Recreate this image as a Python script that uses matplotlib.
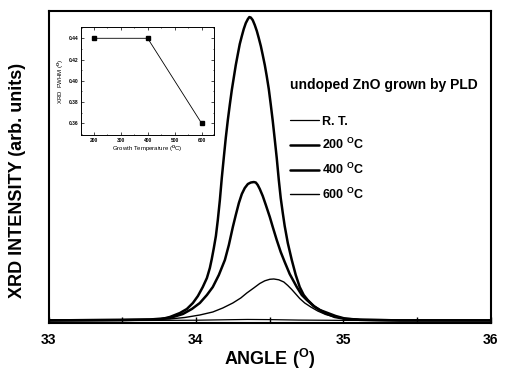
import matplotlib
matplotlib.use("Agg")
import matplotlib.pyplot as plt
from matplotlib.ticker import MultipleLocator, FormatStrFormatter

plt.rcParams['font.family'] = ['Liberation Sans', 'DejaVu Sans']
plt.rcParams['font.weight'] = 'bold'
plt.rcParams['mathtext.fontset'] = 'custom'
plt.rcParams['mathtext.rm'] = 'Liberation Sans:bold'
plt.rcParams['mathtext.bf'] = 'Liberation Sans:bold'
plt.rcParams['mathtext.it'] = 'Liberation Sans:bold'

# ---- main XRD curves (angle in degrees, intensity arb. units) ----
rt_angle = [33.00, 33.50, 34.00, 34.20, 34.35, 34.50, 34.70, 35.00, 35.50, 36.00]
rt_int = [0.10, 0.15, 0.25, 0.40, 0.50, 0.45, 0.30, 0.20, 0.15, 0.10]

t200_angle = [33.00, 33.49, 33.756, 33.824, 33.892, 33.939, 33.980, 34.014, 34.047, 34.075,
              34.095, 34.108, 34.122, 34.136, 34.149, 34.163, 34.176, 34.190, 34.203, 34.217,
              34.231, 34.244, 34.258, 34.271, 34.285, 34.298, 34.312, 34.325, 34.339, 34.353,
              34.363, 34.373, 34.386, 34.400, 34.414, 34.427, 34.441, 34.454, 34.468, 34.481,
              34.495, 34.508, 34.522, 34.536, 34.549, 34.563, 34.576, 34.590, 34.603, 34.624,
              34.651, 34.678, 34.705, 34.732, 34.759, 34.800, 34.841, 34.895, 34.949, 35.010,
              35.112, 35.38, 36.00]
t200_int = [0.20, 0.33, 0.49, 1.32, 2.63, 3.95, 5.92, 8.22, 11.18, 14.14,
            17.43, 20.39, 24.01, 27.96, 33.22, 39.80, 47.04, 53.95, 60.20, 66.12,
            71.38, 75.99, 80.26, 84.21, 87.83, 91.12, 93.75, 96.05, 98.03, 99.34,
            100.0, 99.84, 99.01, 97.37, 95.39, 93.09, 90.46, 87.50, 84.21, 80.59,
            76.32, 71.38, 65.79, 59.54, 53.62, 46.38, 40.46, 35.53, 31.25, 25.66,
            20.07, 15.13, 11.18, 8.55, 6.91, 4.93, 3.62, 2.63, 1.64, 0.82,
            0.39, 0.20, 0.20]

t400_angle = [33.00, 33.485, 33.688, 33.824, 33.912, 33.973, 34.027, 34.075, 34.115, 34.156,
              34.197, 34.224, 34.251, 34.271, 34.292, 34.312, 34.332, 34.353, 34.373, 34.393,
              34.407, 34.420, 34.434, 34.454, 34.475, 34.502, 34.522, 34.549, 34.576, 34.603,
              34.637, 34.685, 34.719, 34.753, 34.807, 34.875, 34.942, 35.010, 35.112, 35.38,
              36.00]
t400_int = [0.20, 0.33, 0.49, 0.99, 2.30, 3.95, 5.92, 8.55, 11.18, 15.13,
            20.07, 25.00, 30.92, 34.87, 38.82, 41.78, 43.75, 45.07, 45.56, 45.72,
            45.56, 44.74, 43.42, 41.12, 38.16, 34.21, 30.92, 26.64, 22.70, 19.41,
            15.46, 11.18, 8.55, 6.91, 4.61, 2.63, 1.32, 0.72, 0.39, 0.20,
            0.20]

t600_angle = [33.00, 33.485, 33.688, 33.824, 33.925, 34.027, 34.115, 34.183, 34.251, 34.305,
              34.346, 34.393, 34.434, 34.468, 34.502, 34.529, 34.563, 34.597, 34.624, 34.651,
              34.678, 34.705, 34.739, 34.780, 34.827, 34.881, 34.942, 35.031, 35.146, 35.38,
              36.00]
t600_int = [0.20, 0.33, 0.46, 0.66, 1.15, 1.97, 2.96, 4.28, 5.92, 7.57,
            9.21, 10.86, 12.34, 13.22, 13.72, 13.82, 13.55, 12.83, 11.68, 10.36,
            8.88, 7.40, 5.92, 4.61, 3.29, 2.14, 1.32, 0.72, 0.39, 0.20,
            0.20]

labels = ['R. T.', r'200 $^{\mathrm{O}}$C', r'400 $^{\mathrm{O}}$C', r'600 $^{\mathrm{O}}$C']

# ---- inset: FWHM vs growth temperature ----
growth_temp = [200, 400, 600]
fwhm = [0.44, 0.44, 0.36]

fig = plt.figure(figsize=(5.07, 3.74), dpi=100)
ax = fig.add_axes([0.0957, 0.1364, 0.8718, 0.8342])

kw = dict(color='black', solid_joinstyle='round', solid_capstyle='round')
l1, = ax.plot(rt_angle, rt_int, lw=0.9, **kw)
l2, = ax.plot(t200_angle, t200_int, lw=1.8, **kw)
l3, = ax.plot(t400_angle, t400_int, lw=1.8, **kw)
l4, = ax.plot(t600_angle, t600_int, lw=1.0, **kw)

ax.set_xlim(33, 36)
ax.set_ylim(-0.66, 102)
ax.set_xticks([33, 34, 35, 36])
ax.xaxis.set_minor_locator(MultipleLocator(0.5))
ax.tick_params(axis='x', which='both', direction='in', length=4, width=1.0,
               labelsize=10, pad=7)
ax.set_yticks([])
for s in ax.spines.values():
    s.set_linewidth(1.5)

ax.set_xlabel(r'ANGLE ($^{\mathrm{O}}$)', fontsize=13, fontweight='bold', labelpad=0)
ax.set_ylabel('XRD INTENSITY (arb. units)', fontsize=13, fontweight='bold')
ax.yaxis.set_label_coords(-0.05, 0.458)

ax.text(0.546, 0.763, 'undoped ZnO grown by PLD', transform=ax.transAxes,
        fontsize=10, fontweight='bold', ha='left', va='center')
leg = ax.legend([l1, l2, l3, l4], labels, loc='upper left',
                bbox_to_anchor=(0.546, 0.664), frameon=False, fontsize=9,
                handlelength=2.3, handletextpad=0.3, labelspacing=0.75,
                borderpad=0, borderaxespad=0)

# inset
axi = fig.add_axes([0.1598, 0.639, 0.2629, 0.2896])
axi.plot(growth_temp, fwhm, color='black', lw=0.6, marker='s', markersize=2.5)
axi.set_xlim(153, 647)
axi.set_ylim(0.349, 0.4509)
axi.set_xticks([200, 300, 400, 500, 600])
axi.set_yticks([0.36, 0.38, 0.40, 0.42, 0.44])
axi.xaxis.set_minor_locator(MultipleLocator(50))
axi.yaxis.set_minor_locator(MultipleLocator(0.01))
axi.yaxis.set_major_formatter(FormatStrFormatter('%.2f'))
axi.tick_params(which='both', direction='in', top=True, right=True,
                labelsize=3.5, width=0.5, pad=2)
axi.tick_params(which='major', length=2)
axi.tick_params(which='minor', length=1)
for s in axi.spines.values():
    s.set_linewidth(0.7)
axi.set_xlabel(r'Growth Temperature ($^{\mathrm{O}}$C)', fontsize=4.3, labelpad=1)
axi.set_ylabel(r'XRD  FWHM ($^{\mathrm{O}}$)', fontsize=4.3, labelpad=2)

fig.savefig('out.png', dpi=100)
